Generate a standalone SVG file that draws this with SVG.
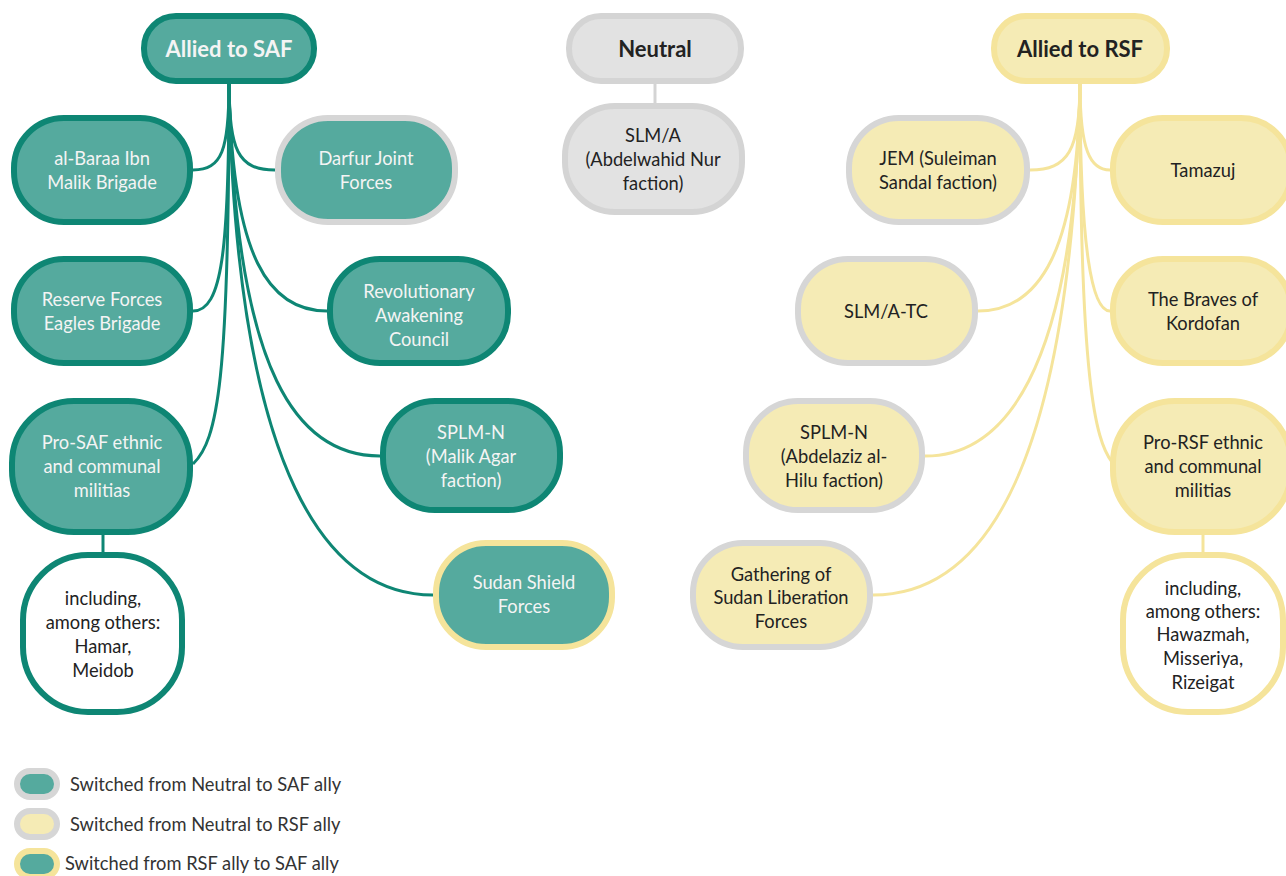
<svg xmlns="http://www.w3.org/2000/svg" width="1286" height="876" viewBox="0 0 1286 876">
<style>
.n{stroke-width:6}
.teal{fill:#55aa9e;stroke:#0e8674}
.tealg{fill:#55aa9e;stroke:#d6d6d6}
.tealy{fill:#55aa9e;stroke:#f5e49b}
.gray{fill:#e2e2e2;stroke:#d4d4d4}
.yel{fill:#f5ebb5;stroke:#f5e49b}
.yelg{fill:#f5ebb5;stroke:#d6d6d6}
.wt{fill:#ffffff;stroke:#0e8674}
.wy{fill:#ffffff;stroke:#f5e49b}
text{font-family:Lato,"Noto Sans","Liberation Sans",sans-serif;font-size:18.3px;text-anchor:middle}
.lw{fill:#f4f4f4}
.lb{fill:#222222}
.h{font-size:22px;font-weight:bold}
.leg{text-anchor:start;fill:#333333}
.ct{fill:none;stroke:#0e8674;stroke-width:3}
.cy{fill:none;stroke:#f5e49b;stroke-width:3}
.cg{fill:none;stroke:#d4d4d4;stroke-width:3}
</style>
<rect width="1286" height="876" fill="#ffffff"/>
<g id="connectors">
<path class="ct" d="M229,84 C229,150 222,170 193,170"/>
<path class="ct" d="M229,84 C229,150 238,170 275,170"/>
<path class="ct" d="M229,84 C229,250 222,311 193,311"/>
<path class="ct" d="M229,84 C232,260 270,311 327,311"/>
<path class="ct" d="M229,84 C229,380 218,440 193,464"/>
<path class="ct" d="M229,84 C235,380 300,456 380,456"/>
<path class="ct" d="M229,84 C236,480 330,595 433,595"/>
<path class="ct" d="M103,535 L103,552"/>
<path class="cg" d="M655,84 L655,103"/>
<path class="cy" d="M1080,84 C1080,150 1068,170 1030,170"/>
<path class="cy" d="M1080,84 C1080,150 1090,170 1110,170"/>
<path class="cy" d="M1080,84 C1078,250 1040,311 978,311"/>
<path class="cy" d="M1080,84 C1080,250 1092,311 1110,311"/>
<path class="cy" d="M1080,84 C1075,380 1000,456 925,456"/>
<path class="cy" d="M1080,84 C1080,380 1095,440 1112,462"/>
<path class="cy" d="M1080,84 C1070,480 980,595 873,595"/>
<path class="cy" d="M1203,535 L1203,552"/>
</g>
<g id="allied-saf"><rect class="n teal" x="144" y="16" width="170" height="65" rx="32"/><text class="lw h" x="229" y="57">Allied to SAF</text></g>
<g id="neutral"><rect class="n gray" x="569" y="16" width="172" height="65" rx="32"/><text class="lb h" x="655" y="57">Neutral</text></g>
<g id="allied-rsf"><rect class="n yel" x="994" y="16" width="173" height="65" rx="32"/><text class="lb h" x="1080" y="57">Allied to RSF</text></g>

<g id="albaraa"><rect class="n teal" x="14" y="118" width="176" height="104" rx="50"/><text class="lw" x="102" y="165">al-Baraa Ibn</text><text class="lw" x="102" y="189">Malik Brigade</text></g>
<g id="darfur"><rect class="n tealg" x="278" y="118" width="177" height="104" rx="50"/><text class="lw" x="366" y="165">Darfur Joint</text><text class="lw" x="366" y="189">Forces</text></g>
<g id="reserve"><rect class="n teal" x="14" y="259" width="176" height="104" rx="50"/><text class="lw" x="102" y="306">Reserve Forces</text><text class="lw" x="102" y="330">Eagles Brigade</text></g>
<g id="revolutionary"><rect class="n teal" x="330" y="259" width="178" height="104" rx="50"/><text class="lw" x="419" y="298">Revolutionary</text><text class="lw" x="419" y="322">Awakening</text><text class="lw" x="419" y="346">Council</text></g>
<g id="prosaf"><rect class="n teal" x="12" y="401" width="178" height="131" rx="62"/><text class="lw" x="102" y="449">Pro-SAF ethnic</text><text class="lw" x="102" y="473">and communal</text><text class="lw" x="102" y="497">militias</text></g>
<g id="hamar"><rect class="n wt" x="23" y="555" width="159" height="157" rx="65"/><text class="lb" x="103" y="605">including,</text><text class="lb" x="103" y="629">among others:</text><text class="lb" x="103" y="653">Hamar,</text><text class="lb" x="103" y="677">Meidob</text></g>
<g id="splmn-agar"><rect class="n teal" x="383" y="401" width="177" height="109" rx="52"/><text class="lw" x="471" y="439">SPLM-N</text><text class="lw" x="471" y="463">(Malik Agar</text><text class="lw" x="471" y="487">faction)</text></g>
<g id="sudan-shield"><rect class="n tealy" x="436" y="543" width="176" height="104" rx="50"/><text class="lw" x="524" y="589">Sudan Shield</text><text class="lw" x="524" y="613">Forces</text></g>

<g id="slma"><rect class="n gray" x="565" y="106" width="177" height="106" rx="50"/><text class="lb" x="653" y="142">SLM/A</text><text class="lb" x="653" y="166">(Abdelwahid Nur</text><text class="lb" x="653" y="190">faction)</text></g>

<g id="jem"><rect class="n yelg" x="849" y="118" width="178" height="104" rx="50"/><text class="lb" x="938" y="165">JEM (Suleiman</text><text class="lb" x="938" y="189">Sandal faction)</text></g>
<g id="tamazuj"><rect class="n yel" x="1113" y="118" width="178" height="104" rx="50"/><text class="lb" x="1203" y="177">Tamazuj</text></g>
<g id="slmatc"><rect class="n yelg" x="798" y="259" width="177" height="104" rx="50"/><text class="lb" x="886" y="318">SLM/A-TC</text></g>
<g id="braves"><rect class="n yel" x="1113" y="259" width="178" height="104" rx="50"/><text class="lb" x="1203" y="306">The Braves of</text><text class="lb" x="1203" y="330">Kordofan</text></g>
<g id="splmn-hilu"><rect class="n yelg" x="746" y="401" width="176" height="109" rx="52"/><text class="lb" x="834" y="439">SPLM-N</text><text class="lb" x="834" y="463">(Abdelaziz al-</text><text class="lb" x="834" y="487">Hilu faction)</text></g>
<g id="prorsf"><rect class="n yel" x="1113" y="401" width="178" height="131" rx="62"/><text class="lb" x="1203" y="449">Pro-RSF ethnic</text><text class="lb" x="1203" y="473">and communal</text><text class="lb" x="1203" y="497">militias</text></g>
<g id="hawazmah"><rect class="n wy" x="1123" y="555" width="160" height="157" rx="65"/><text class="lb" x="1203" y="595">including,</text><text class="lb" x="1203" y="618">among others:</text><text class="lb" x="1203" y="641">Hawazmah,</text><text class="lb" x="1203" y="665">Misseriya,</text><text class="lb" x="1203" y="689">Rizeigat</text></g>
<g id="gathering"><rect class="n yelg" x="693" y="543" width="177" height="104" rx="50"/><text class="lb" x="781" y="581">Gathering of</text><text class="lb" x="781" y="604">Sudan Liberation</text><text class="lb" x="781" y="628">Forces</text></g>

<g id="legend">
<rect class="n tealg" x="17" y="771" width="40" height="26" rx="13"/><text class="leg" x="70" y="791">Switched from Neutral to SAF ally</text>
<rect class="n yelg" x="17" y="811" width="40" height="26" rx="13"/><text class="leg" x="70" y="831">Switched from Neutral to RSF ally</text>
<rect class="n tealy" x="17" y="851" width="40" height="26" rx="13"/><text class="leg" x="65" y="870">Switched from RSF ally to SAF ally</text>
</g>
</svg>
